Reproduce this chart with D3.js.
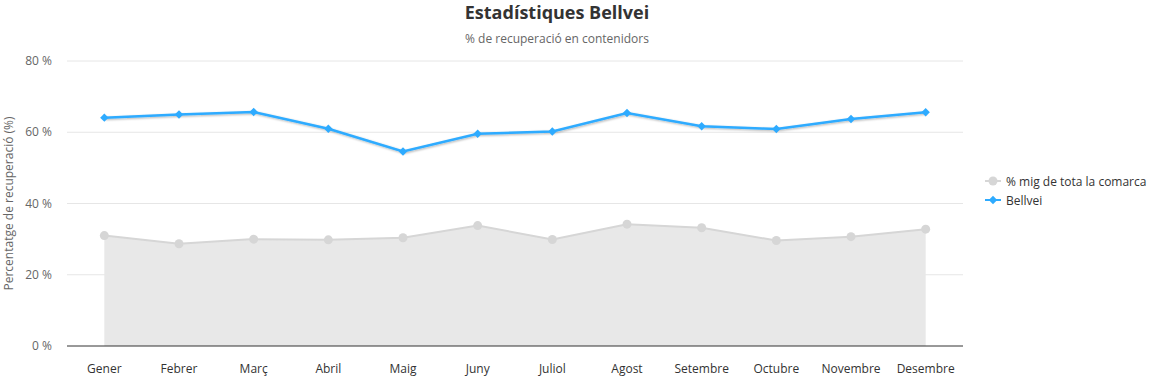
<!DOCTYPE html>
<html>
<head>
<meta charset="utf-8">
<script src="https://cdn.jsdelivr.net/npm/d3@7"></script>
<style>
  body { margin: 0; background: #fff; }
  text { font-family: "Open Sans", "Noto Sans", sans-serif; }
</style>
</head>
<body>
<svg id="chart"></svg>
<script>
const months = ["Gener", "Febrer", "Març", "Abril", "Maig", "Juny", "Juliol", "Agost", "Setembre", "Octubre", "Novembre", "Desembre"];
const comarcaValues = [31.0, 28.7, 30.0, 29.8, 30.4, 33.8, 29.9, 34.2, 33.2, 29.6, 30.7, 32.8];
const bellveiValues = [64.1, 65.0, 65.7, 61.0, 54.6, 59.6, 60.2, 65.4, 61.7, 60.9, 63.7, 65.6];
const yTicks = [0, 20, 40, 60, 80];
const seriesNames = ["% mig de tota la comarca", "Bellvei"];

const W = 1158, H = 377;
const margin = { top: 61, right: 195, bottom: 31, left: 67 };
const plotW = W - margin.left - margin.right;
const plotH = H - margin.top - margin.bottom;

const svg = d3.select("#chart").attr("width", W).attr("height", H);

// shadow for the main line
const defs = svg.append("defs");
const f = defs.append("filter").attr("id", "shadow").attr("x", "-5%").attr("y", "-50%").attr("width", "110%").attr("height", "200%");
f.append("feDropShadow").attr("dx", 1).attr("dy", 1).attr("stdDeviation", 1.2).attr("flood-color", "#000").attr("flood-opacity", 0.3);

const g = svg.append("g").attr("transform", `translate(${margin.left},${margin.top})`);

const x = d3.scaleBand().domain(months).range([0, plotW]);
const y = d3.scaleLinear().domain([0, 80]).range([plotH, 0]);
const cx = m => x(m) + x.bandwidth() / 2;

// grid
g.selectAll(".grid").data(yTicks.filter(t => t > 0)).enter().append("line")
  .attr("x1", 0).attr("x2", plotW)
  .attr("y1", d => y(d)).attr("y2", d => y(d))
  .attr("stroke", "#e6e6e6").attr("stroke-width", 1);

// y labels
g.selectAll(".ylab").data(yTicks).enter().append("text")
  .attr("x", -15).attr("y", d => y(d) + 4)
  .attr("text-anchor", "end")
  .attr("font-size", 12).attr("fill", "#666")
  .text(d => d + " %");

// y title
svg.append("text")
  .attr("transform", `translate(13,${margin.top + plotH / 2}) rotate(-90)`)
  .attr("text-anchor", "middle")
  .attr("font-size", 12).attr("fill", "#666")
  .text("Percentatge de recuperació (%)");

// comarca area
const comarca = months.map((m, i) => ({ m, v: comarcaValues[i] }));
const bellvei = months.map((m, i) => ({ m, v: bellveiValues[i] }));

g.append("path").datum(comarca)
  .attr("d", d3.area().x(d => cx(d.m)).y0(y(0)).y1(d => y(d.v)))
  .attr("fill", "#e8e8e8");
g.append("path").datum(comarca)
  .attr("d", d3.line().x(d => cx(d.m)).y(d => y(d.v)))
  .attr("fill", "none").attr("stroke", "#d6d6d6").attr("stroke-width", 2);
g.selectAll(".cdot").data(comarca).enter().append("circle")
  .attr("cx", d => cx(d.m)).attr("cy", d => y(d.v)).attr("r", 4.5)
  .attr("fill", "#d6d6d6");

// x axis line
g.append("line").attr("x1", 0).attr("x2", plotW).attr("y1", plotH).attr("y2", plotH)
  .attr("stroke", "#333").attr("stroke-width", 1);

// x labels
g.selectAll(".xlab").data(months).enter().append("text")
  .attr("x", d => cx(d)).attr("y", plotH + 27)
  .attr("text-anchor", "middle")
  .attr("font-size", 12).attr("fill", "#333")
  .text(d => d);

// bellvei line
const blue = "#2eabff";
g.append("path").datum(bellvei)
  .attr("d", d3.line().x(d => cx(d.m)).y(d => y(d.v)))
  .attr("fill", "none").attr("stroke", blue).attr("stroke-width", 2.5)
  .attr("filter", "url(#shadow)");
const diamond = d3.symbol().type(d3.symbolDiamond2).size(45);
g.selectAll(".bdot").data(bellvei).enter().append("path")
  .attr("transform", d => `translate(${cx(d.m)},${y(d.v)})`)
  .attr("d", diamond).attr("fill", blue);

// title
svg.append("text").attr("x", 557).attr("y", 19)
  .attr("text-anchor", "middle").attr("font-size", 18).attr("font-weight", "bold").attr("fill", "#333")
  .text("Estadístiques Bellvei");
svg.append("text").attr("x", 557).attr("y", 43)
  .attr("text-anchor", "middle").attr("font-size", 12).attr("fill", "#666")
  .text("% de recuperació en contenidors");

// legend
const legend = svg.append("g").attr("transform", "translate(985,181)");
seriesNames.forEach((name, i) => {
  const row = legend.append("g").attr("transform", `translate(0,${i * 19})`);
  const col = i === 0 ? "#d6d6d6" : blue;
  row.append("line").attr("x1", 0).attr("x2", 16).attr("y1", 0).attr("y2", 0)
    .attr("stroke", col).attr("stroke-width", 2);
  if (i === 0) {
    row.append("circle").attr("cx", 8).attr("cy", 0).attr("r", 4.5).attr("fill", col);
  } else {
    row.append("path").attr("transform", "translate(8,0)").attr("d", diamond).attr("fill", col);
  }
  row.append("text").attr("x", 21).attr("y", 4.5)
    .attr("font-size", 12).attr("fill", "#333")
    .text(name);
});
</script>
</body>
</html>
